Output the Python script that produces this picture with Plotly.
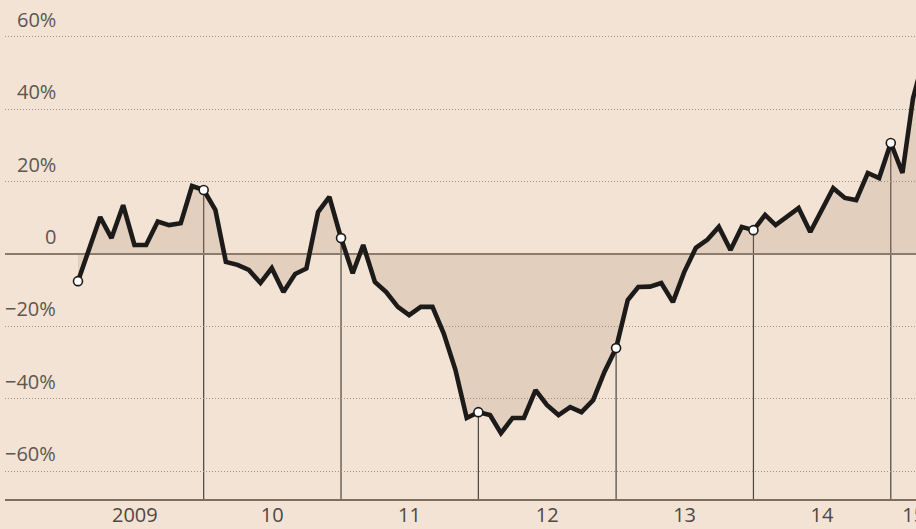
import pandas as pd
import plotly.graph_objects as go

# Monthly values (% change), first observation Feb 2009
start_date = "2009-02-01"
values = [
    -7.5, 1, 10.2, 4.4, 13.5, 2.5, 2.5, 9, 8, 8.5, 18.8,
    17.7, 12.2, -2.2, -3, -4.4, -8, -3.9, -10.5, -5.5, -4, 11.6, 15.8,
    4.4, -5.3, 2.5, -7.7, -10.5, -14.6, -16.9, -14.6, -14.6, -22, -32, -45.3,
    -43.7, -44.5, -49.5, -45.3, -45.3, -37.6, -41.7, -44.5, -42.3, -43.7, -40.4, -32.6,
    -26, -12.7, -9.1, -9, -8, -13.3, -5, 1.7, 4, 7.5, 1.1, 7.5,
    6.6, 10.8, 8, 10.5, 12.7, 6.1, 12.2, 18.2, 15.5, 14.9, 22.4, 21,
    30.7, 22.4, 43, 55,
]
dates = pd.date_range(start_date, periods=len(values), freq="MS")

# Highlighted dates (start of series + each new year)
highlight_dates = ["2009-02-01", "2010-01-01", "2011-01-01", "2012-01-01",
                   "2013-01-01", "2014-01-01", "2015-01-01"]
drop_line_dates = highlight_dates[1:]

x_tick_vals = ["2009-07-02", "2010-07-02", "2011-07-02", "2012-07-02",
               "2013-07-02", "2014-07-02", "2015-03-03"]
x_tick_text = ["2009", "10", "11", "12", "13", "14", "15"]
y_tick_vals = [60, 40, 20, 0, -20, -40, -60]
y_tick_text = ["60%", "40%", "20%", "0", "\u221220%", "\u221240%", "\u221260%"]

Y_MIN, Y_MAX = -67.7, 70.2
BG = "#F2E3D5"

series = pd.Series(values, index=dates)
hl = series.loc[pd.to_datetime(highlight_dates)]

fig = go.Figure()
fig.add_trace(go.Scatter(
    x=dates, y=values, mode="lines",
    line=dict(color="#1d1b1a", width=4.6),
    fill="tozeroy", fillcolor="rgba(170,130,95,0.2)",
    hoverinfo="skip", showlegend=False,
))
fig.add_trace(go.Scatter(
    x=hl.index, y=hl.values, mode="markers",
    marker=dict(size=9, color="white", line=dict(color="#1d1b1a", width=1.6)),
    showlegend=False,
))

shapes = []
for d in drop_line_dates:
    v = series.loc[pd.Timestamp(d)]
    shapes.append(dict(type="line", xref="x", yref="y", x0=d, x1=d, y0=Y_MIN, y1=v,
                       line=dict(color="#4a4440", width=1.2), layer="below"))

annotations = []
for v, t in zip(y_tick_vals, y_tick_text):
    annotations.append(dict(
        x=(58 - 5) / 911, xref="paper", y=v, yref="y", text=t, showarrow=False,
        xanchor="right", yanchor="bottom", yshift=2,
        font=dict(family="Open Sans", size=20, color="#5e5650"),
    ))

fig.update_layout(
    width=916, height=529,
    margin=dict(l=5, r=0, t=0, b=30),
    paper_bgcolor=BG, plot_bgcolor=BG,
    shapes=shapes, annotations=annotations,
    xaxis=dict(
        type="date", range=["2008-07-22", "2015-03-09"], automargin=False,
        tickmode="array", tickvals=x_tick_vals, ticktext=x_tick_text,
        ticklabeloverflow="allow", ticklabelstandoff=-3,
        showgrid=False, zeroline=False,
        showline=True, linecolor="#7a6d62", linewidth=1.5,
        ticks="",
        tickfont=dict(family="Open Sans", size=20, color="#4f4843"),
    ),
    yaxis=dict(
        range=[Y_MIN, Y_MAX], tickvals=[60, 40, 20, -20, -40, -60], automargin=False,
        showticklabels=False, showgrid=True, gridcolor="#9c928a", gridwidth=1,
        griddash="1px,2px", zeroline=True, zerolinecolor="#8a7b6e", zerolinewidth=1.5,
    ),
)
fig.write_html("out.html")
